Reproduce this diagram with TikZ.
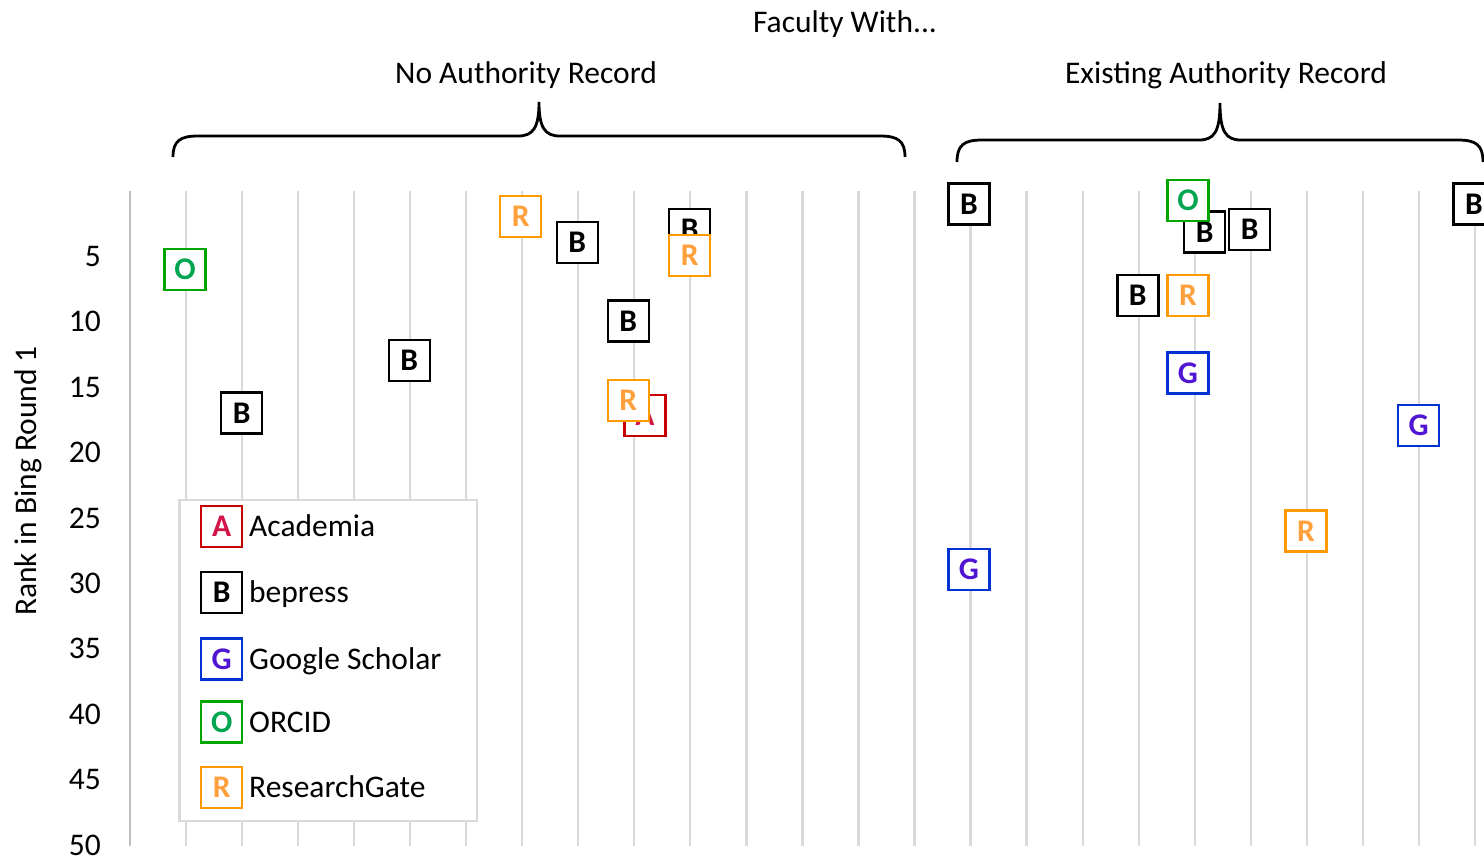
\documentclass[tikz,border=0pt]{standalone}
\usepackage{fontspec}
\setmainfont{Carlito}
\definecolor{gridc}{HTML}{D9D9D9}
\definecolor{axisc}{HTML}{BFBFBF}
\definecolor{acadbox}{RGB}{200,0,0}
\definecolor{acadtxt}{RGB}{210,20,70}
\definecolor{gsbox}{RGB}{0,51,210}
\definecolor{gstxt}{RGB}{80,20,210}
\definecolor{orbox}{RGB}{0,165,0}
\definecolor{ortxt}{RGB}{0,165,80}
\definecolor{rgbox}{RGB}{255,153,0}
\definecolor{rgtxt}{RGB}{255,160,60}
\newcommand{\myfnt}{\fontsize{31.5}{38}\selectfont}
\newcommand{\mymkfnt}{\fontsize{31.5}{38}\selectfont\bfseries}
\begin{document}
\begin{tikzpicture}[x=1pt,y=-1pt,
  grid/.style={gridc,line width=2.3pt},
  mk/.style={draw,fill=white,line width=2.4pt,minimum size=41pt,inner sep=0pt,font=\mymkfnt},
  mA/.style={mk,draw=acadbox,text=acadtxt},
  mB/.style={mk,draw=black,text=black},
  mG/.style={mk,draw=gsbox,text=gstxt},
  mO/.style={mk,draw=orbox,text=ortxt},
  mR/.style={mk,draw=rgbox,text=rgtxt},
  lbl/.style={font=\myfnt,inner sep=0pt},
  brace/.style={line width=2.8pt,line join=miter,line cap=butt}]
\useasboundingbox (0,0) rectangle (1484,860);
\clip (0,0) rectangle (1484,860);
% gridlines
\foreach \k in {1,...,24}
  \draw[grid] ({129.8+56.05*\k},190.6) -- ({129.8+56.05*\k},846);
\draw[axisc,line width=2.6pt] (129.8,190.6) -- (129.8,846);
% y tick labels
\foreach \v [count=\i] in {5,10,...,50}
  \node[lbl,anchor=base east] (tick\i) at (101,{190.6+13.08*\v+10.5}) {\v};
\node[lbl,rotate=90,anchor=base] (ytitle) at (36.5,481) {Rank in Bing Round 1};
% titles
\node[lbl,anchor=base] (title) at (845,32.5) {Faculty With...};
\node[lbl,anchor=base] (noauth) at (526,83) {No Authority Record};
\node[lbl,anchor=base] (exauth) at (1226,83) {Existing Authority Record};
% braces
\draw[brace] (173,157) .. controls (173,141) and (180,136) .. (198,136) -- (518,136)
  .. controls (533,136) and (539,128) .. (539,102)
  .. controls (539,128) and (545,136) .. (560,136) -- (880,136)
  .. controls (898,136) and (905,141) .. (905,157);
\draw[brace] (957,162) .. controls (957,145) and (964,140) .. (982,140) -- (1199,140)
  .. controls (1214,140) and (1220,132) .. (1220,103)
  .. controls (1220,132) and (1226,140) .. (1241,140) -- (1458,140)
  .. controls (1476,140) and (1483,145) .. (1483,162);
% markers, left group
\node[mO] (p1) at (185,269.5) {O};
\node[mB] (p2) at (241.7,413) {B};
\node[mB] (p3) at (409.3,360.5) {B};
\node[mR] (p4) at (520.7,216.7) {R};
\node[mB] (p5) at (577.2,242.5) {B};
\node[mB] (p6) at (689.7,229.6) {B};
\node[mR] (p7) at (689.7,255.5) {R};
\node[mB] (p8) at (628.3,320.8) {B};
\node[mA] (p9) at (644.8,415.7) {A};
\node[mR] (p10) at (628.3,400.2) {R};
% markers, right group
\node[mB] (q1) at (969,204) {B};
\node[mG] (q2) at (969,569.7) {G};
\node[mB] (q3) at (1204.7,232) {B};
\node[mO] (q4) at (1188,200.3) {O};
\node[mB] (q5) at (1249.7,229.6) {B};
\node[mB] (q6) at (1137.8,295.3) {B};
\node[mR] (q7) at (1188,295.3) {R};
\node[mG] (q8) at (1188,373) {G};
\node[mG] (q9) at (1418.7,425.7) {G};
\node[mR] (q10) at (1306,531) {R};
\node[mB] (q11) at (1474,204) {B};
% legend
\node[draw=gridc,fill=white,line width=2.3pt,minimum width=297.7pt,minimum height=321pt,inner sep=0pt,anchor=north west] (legend) at (178.3,499) {};
\node[mA] (lA) at (221.7,526.7) {A};
\node[mB] (lB) at (221.7,592.5) {B};
\node[mG] (lG) at (221.7,659) {G};
\node[mO] (lO) at (221.7,722) {O};
\node[mR] (lR) at (221.7,787.5) {R};
\node[lbl,anchor=base west] (tA) at (249,536.7) {Academia};
\node[lbl,anchor=base west] (tB) at (249,602.5) {bepress};
\node[lbl,anchor=base west] (tG) at (249,669) {Google Scholar};
\node[lbl,anchor=base west] (tO) at (249,732) {ORCID};
\node[lbl,anchor=base west] (tR) at (249,797.5) {ResearchGate};
\end{tikzpicture}
\end{document}
